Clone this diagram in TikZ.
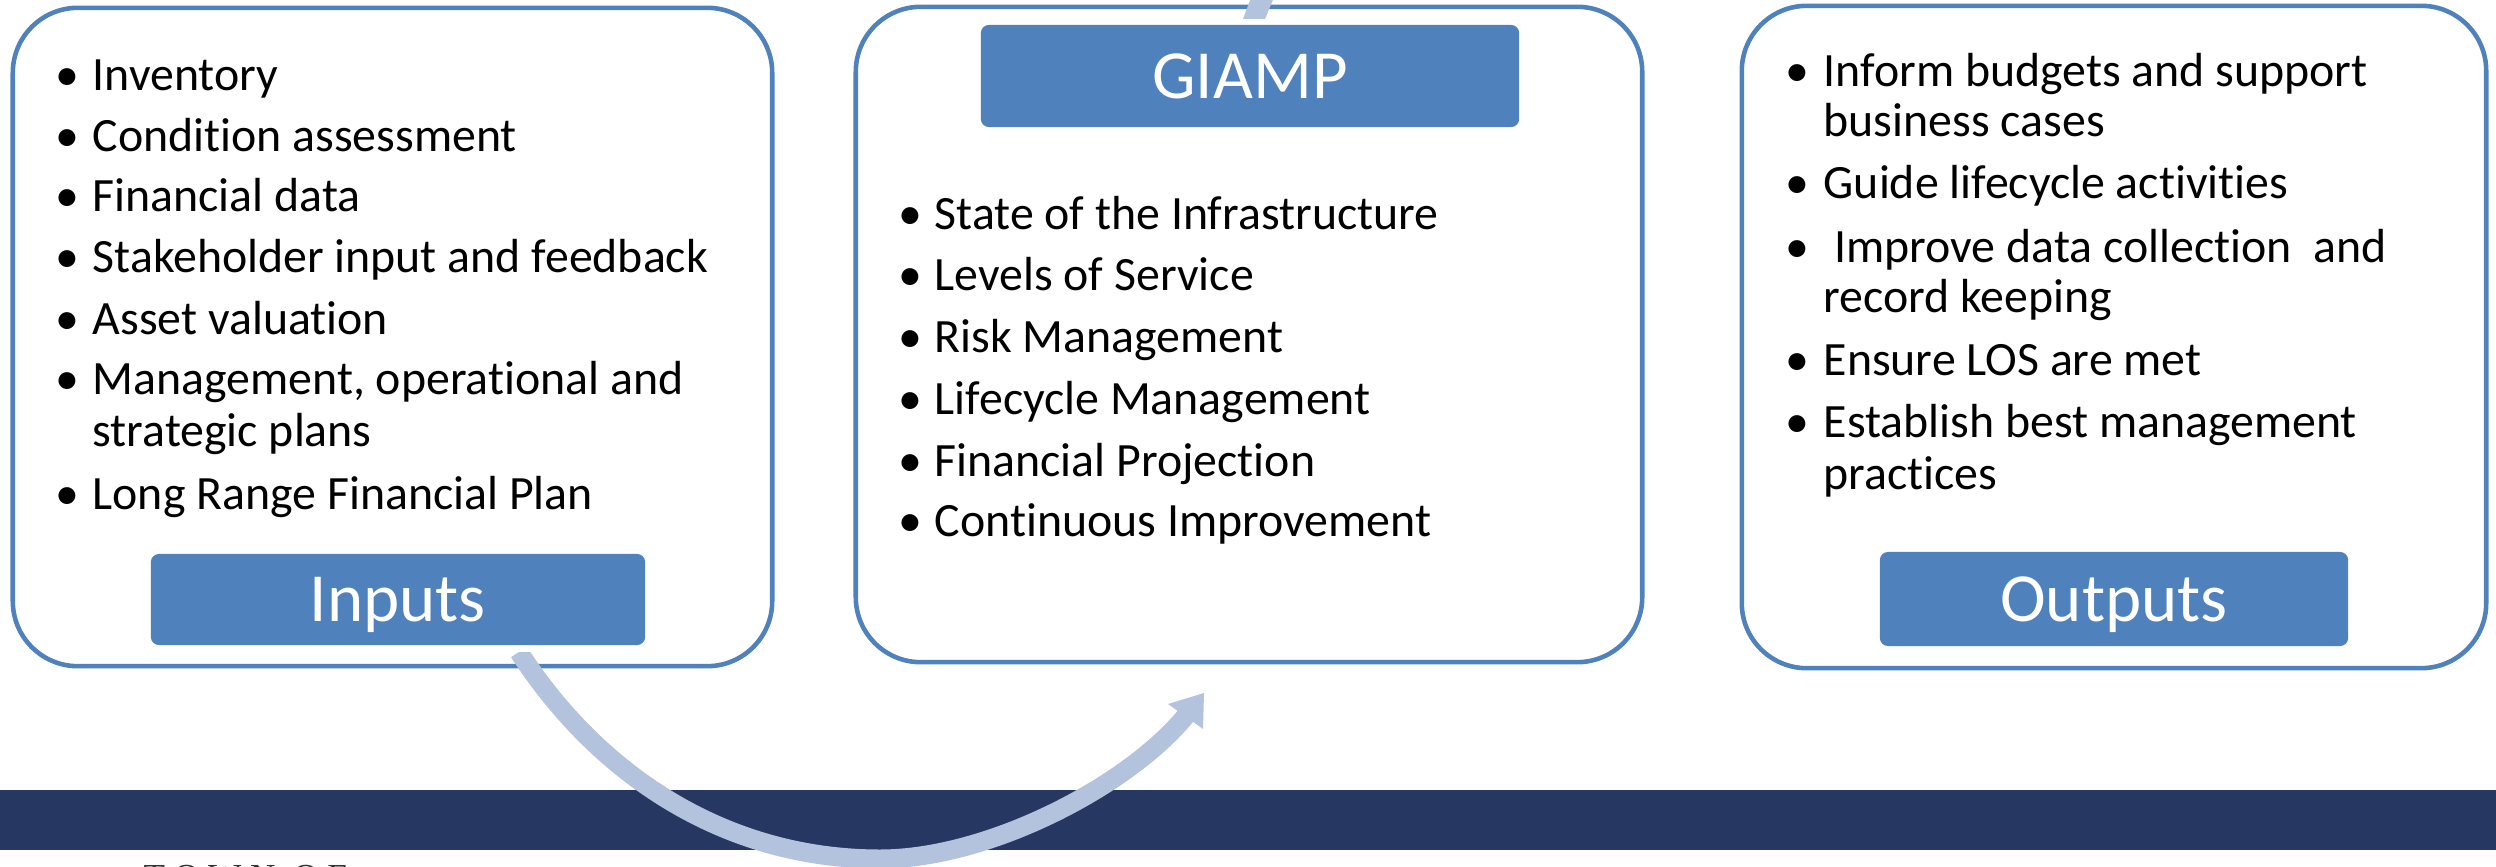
\documentclass[tikz,border=0pt]{standalone}
\usepackage{fontspec}
\setmainfont{Carlito}[Ligatures=CommonOff]
\newfontfamily\footserif{Liberation Serif}
\definecolor{accent}{RGB}{79,129,189}
\definecolor{flowc}{RGB}{179,195,222}
\definecolor{bandc}{RGB}{38,55,97}
\newcommand\bodyfont{\fontsize{13.6pt}{14.2pt}\selectfont}
\newcommand\tagfont{\fontsize{19.6pt}{22pt}\selectfont}
\newcommand\li[5]{\node[bul] (#1b) at (#2,#4) {•}; \node[itm] (#1) at (#3,#4) {#5};}
\begin{document}
\begin{tikzpicture}[x=0.01cm,y=-0.01cm,
 panel/.style={draw=accent, line width=1.3pt, rounded corners=0.65cm, inner sep=0pt},
 tag/.style={fill=accent, rounded corners=0.08cm, text=white, font=\tagfont, inner sep=0pt, text height=12.6pt, text depth=0pt},
 itm/.style={anchor=base west, inner sep=0pt, font=\bodyfont},
 bul/.style={anchor=base, inner sep=0pt, font=\bodyfont},
 flow/.style={draw=flowc, line width=5.4pt},
]
\useasboundingbox (0,0) rectangle (2496,867);
\clip (0,0) rectangle (2496,867);
\fill[bandc] (0,790) rectangle (2496,850);
\node[font=\footserif\fontsize{10pt}{10pt}\selectfont, text=black!80, anchor=north west, inner sep=0pt] (town) at (143,865) {T O W N\ \ O F};

% panels
\node[panel, minimum width=7.59cm, minimum height=6.58cm] (inbox) at (392.5,337) {};
\node[panel, minimum width=7.86cm, minimum height=6.55cm] (gbox) at (1249,334.5) {};
\node[panel, minimum width=7.44cm, minimum height=6.62cm] (outbox) at (2114,337) {};

% tags
\node[tag, minimum width=4.94cm, minimum height=0.91cm] (inputs) at (398,599.5) {Inputs};
\node[tag, minimum width=5.38cm, minimum height=1.02cm] (giamp) at (1250,76) {GIAMP};
\node[tag, minimum width=4.68cm, minimum height=0.94cm] (outputs) at (2114,599) {Outputs};

% inputs list
\li{i1}{67}{92}{91}{Inventory}
\li{i2}{67}{92}{152}{Condition assessment}
\li{i3}{67}{92}{212}{Financial data}
\li{i4}{67}{92}{273}{Stakeholder input and feedback}
\li{i5}{67}{92}{334}{Asset valuation}
\li{i6}{67}{92}{395}{Management, operational and}
\node[itm] (i6c) at (92,446) {strategic plans};
\li{i7}{67}{92}{509}{Long Range Financial Plan}

% giamp list
\li{g1}{910}{934}{229}{State of the Infrastructure}
\li{g2}{910}{934}{291}{Levels of Service}
\li{g3}{910}{934}{353}{Risk Management}
\li{g4}{910}{934}{414}{Lifecycle Management}
\li{g5}{910}{934}{476}{Financial Projection}
\li{g6}{910}{934}{536}{Continuous Improvement}

% outputs list
\li{o1}{1797}{1823}{87}{Inform budgets and support}
\node[itm] (o1c) at (1823,137) {business cases};
\li{o2}{1797}{1823}{199}{Guide lifecycle activities}
\li{o3}{1797}{1823}{262}{\ Improve data collection\ \ and}
\node[itm] (o3c) at (1823,312) {record keeping};
\li{o4}{1797}{1823}{375}{Ensure LOS are met}
\li{o5}{1797}{1823}{437}{Establish best management}
\node[itm] (o5c) at (1823,489) {practices};

% curved arrow from inputs to GIAMP
\coordinate (flowtail) at (519,652);
\coordinate (flowlow) at (880,859);
\coordinate (flowend) at (1188,713);
\coordinate (flowtip) at (1204,693);
\coordinate (flowbarbl) at (1168,704);
\coordinate (flowbarbr) at (1203,729);
\begin{scope}
\clip (0,652) rectangle (2496,900);
\draw[flow] (flowtail) .. controls (595,770) and (720,859) .. (flowlow)
  .. controls (990,859) and (1132,784) .. (flowend);
\end{scope}
\fill[flowc] (flowtip) -- (flowbarbl) -- (flowbarbr) -- cycle;

% arrow leaving GIAMP at the top
\coordinate (topl) at (1243,19);
\coordinate (topr) at (1265,19);
\fill[flowc] (topl) -- (topr) -- (1275,-5) -- (1252,-5) -- cycle;
\end{tikzpicture}
\end{document}
